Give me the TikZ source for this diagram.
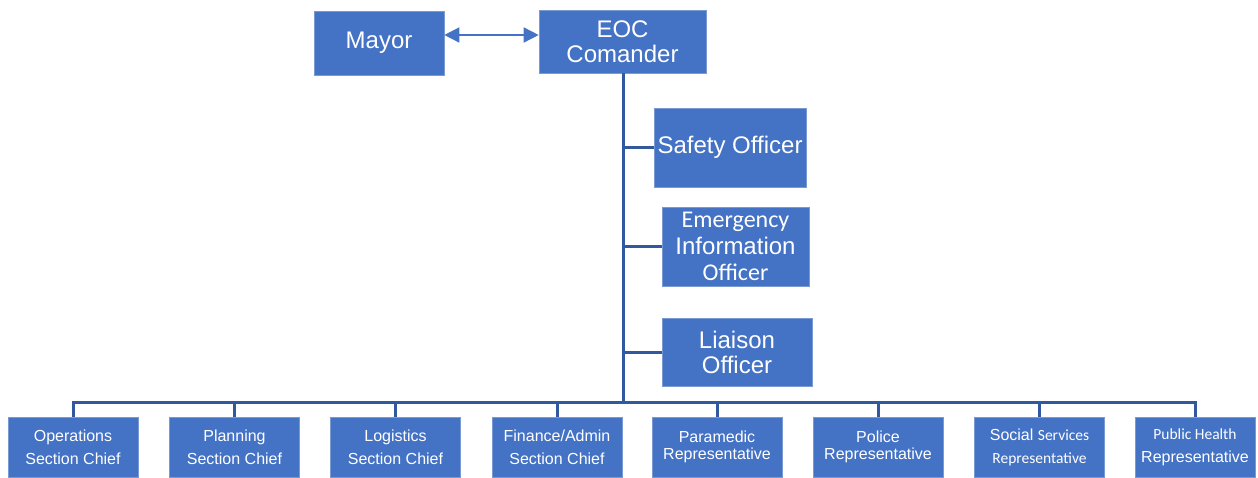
\documentclass[tikz,border=0pt]{standalone}
\usepackage{fontspec}
\setmainfont{Liberation Sans}
\newfontfamily\calfont{Carlito}
\usetikzlibrary{arrows.meta}
\definecolor{boxblue}{RGB}{68,114,196}
\definecolor{boxedge}{RGB}{122,154,212}
\definecolor{linkblue}{RGB}{50,88,160}

\begin{document}
\begin{tikzpicture}[x=1pt, y=-1pt,
  box/.style={rectangle, fill=boxblue, draw=boxedge, line width=0.6pt, text=white, align=center, inner sep=0pt},
  big/.style={box, font=\fontsize{24}{25}\selectfont},
  small/.style={box, minimum width=130pt, minimum height=60pt, font=\fontsize{16}{23}\selectfont},
  link/.style={draw=linkblue, line width=3pt}]
\useasboundingbox (0,0) rectangle (1258,477);

% command staff
\node[big, minimum width=130pt, minimum height=64pt] (mayor) at (379,43) {Mayor};
\node[big, minimum width=167pt, minimum height=63pt] (eoc) at (622.5,41.5) {EOC\\Comander};
\node[big, minimum width=152pt, minimum height=79pt] (safety) at (730,147.5) {Safety Officer};
\node[big, minimum width=147pt, minimum height=79pt, font=\fontsize{24}{26.5}\selectfont] (eio) at (735.5,246.5) {{\calfont Emergency}\\Information\\{\calfont Officer}};
\node[big, minimum width=150pt, minimum height=68pt] (liaison) at (737,352) {Liaison\\Officer};

% general staff and representatives
\node[small] (ops) at (73,447) {Operations\\Section Chief};
\node[small] (plan) at (234.5,447) {Planning\\Section Chief};
\node[small] (logi) at (395.5,447) {Logistics\\Section Chief};
\node[small] (fin) at (557,447) {Finance/Admin\\Section Chief};
\node[small, font=\fontsize{16}{17.5}\selectfont] (para) at (717,447) {Paramedic\\Representative};
\node[small, font=\fontsize{16}{17.5}\selectfont] (police) at (878,447) {Police\\Representative};
\node[small] (social) at (1039.5,447) {Social {\calfont\fontsize{15.5}{23}\selectfont Services}\\{\calfont\fontsize{15.5}{23}\selectfont Representative}};
\node[small, minimum width=120pt] (health) at (1195,447) {{\calfont\fontsize{15.5}{23}\selectfont Public Health}\\Representative};

\draw[{Triangle[length=15pt,width=15pt]}-{Triangle[length=15pt,width=15pt]}, boxblue, line width=1.5pt] ([yshift=8pt]mayor.east) -- ([yshift=6.5pt]eoc.west);

\coordinate (hub) at (623,402);
\draw[link] (eoc.south -| hub) -- (hub);
\draw[link] (safety.west -| hub) -- (safety);
\draw[link] (eio.west -| hub) -- (eio);
\draw[link] (liaison.west -| hub) -- (liaison);
\draw[link] (hub) -| (ops);
\draw[link] (hub) -| (plan);
\draw[link] (hub) -| (logi);
\draw[link] (hub) -| (fin);
\draw[link] (hub) -| (para);
\draw[link] (hub) -| (police);
\draw[link] (hub) -| (social);
\draw[link] (hub) -| (health);
\end{tikzpicture}
\end{document}
